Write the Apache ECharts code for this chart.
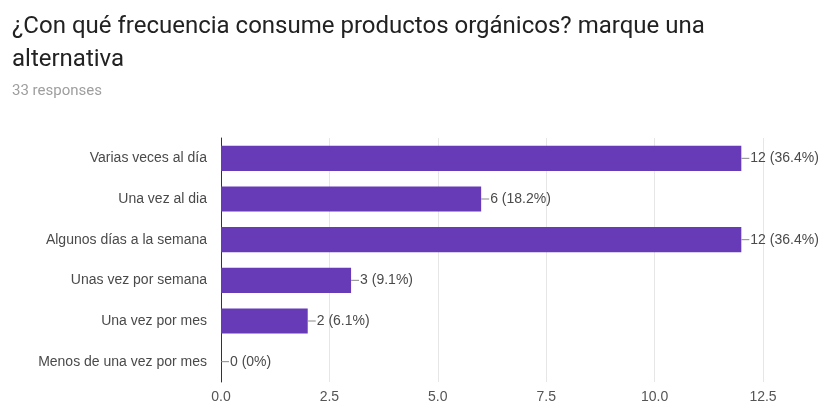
<!DOCTYPE html>
<html><head><meta charset="utf-8">
<script src="https://cdn.jsdelivr.net/npm/echarts@6/dist/echarts.min.js"></script>
<style>html,body{margin:0;padding:0;background:#fff}#c{width:832px;height:408px}</style>
</head><body><div id="c"></div>
<script>
const categories = ["Varias veces al día","Una vez al dia","Algunos días a la semana","Unas vez por semana","Una vez por mes","Menos de una vez por mes"];
const values = [12, 6, 12, 3, 2, 0];
const totalResponses = 33;
const tickLabels = ["0.0","2.5","5.0","7.5","10.0","12.5"];

const AR = '"Liberation Sans", Arial, sans-serif';
const chart = echarts.init(document.getElementById('c'), null, {renderer:'canvas'});
chart.setOption({
  animation:false,
  backgroundColor:'#fff',
  title:[
    {text:'¿Con qué frecuencia consume productos orgánicos? marque una\nalternativa', left:7, top:5,
     textStyle:{fontFamily:'Roboto', fontSize:24, fontWeight:'normal', color:'#222', lineHeight:33}},
    {text:'33 responses', left:7, top:79, textStyle:{fontFamily:'Roboto', fontSize:15, fontWeight:'normal', color:'#9e9e9e'}}
  ],
  grid:{left:221, right:69, top:138, bottom:26, containLabel:false},
  xAxis:{type:'value', min:0, max:12.5, interval:2.5,
    axisLine:{show:false}, axisTick:{show:false},
    splitLine:{lineStyle:{color:'#e6e6e6'}},
    axisLabel:{color:'#555', fontFamily:AR, fontSize:14, margin:8,
      formatter:(v)=>tickLabels[Math.round(v/2.5)]}},
  yAxis:{type:'category', data:categories, inverse:true,
    axisLine:{lineStyle:{color:'#333'}}, axisTick:{show:false},
    axisLabel:{color:'#4a4a4a', fontFamily:AR, fontSize:14, margin:14}},
  series:[{type:'bar', data:values, barWidth:'62%',
    itemStyle:{color:'#673ab7'},
    label:{show:true, position:'right', distance:0, color:'#4a4a4a', fontFamily:AR, fontSize:14,
      formatter:(p)=>{const pct = p.value===0 ? '0%' : (p.value/totalResponses*100).toFixed(1)+'%'; return '{l|}{t|'+p.value+' ('+pct+')}';},
      rich:{l:{width:8, height:1, backgroundColor:'#888'}, t:{color:'#4a4a4a', fontFamily:AR, fontSize:14, padding:[0,0,0,1]}}}
  }]
});
</script></body></html>
